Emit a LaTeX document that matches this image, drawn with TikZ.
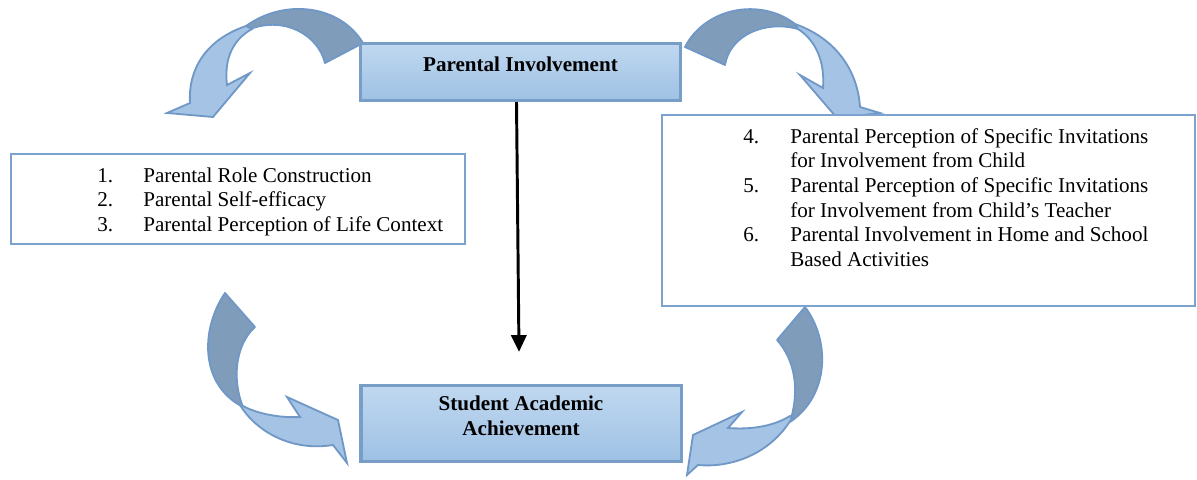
\documentclass[tikz,border=0pt]{standalone}
\usepackage{fontspec}
\setmainfont{Liberation Serif}
\usetikzlibrary{arrows.meta}
\definecolor{boxtop}{RGB}{192,216,240}
\definecolor{boxbot}{RGB}{158,193,228}
\definecolor{boxedge}{RGB}{120,158,200}
\definecolor{listedge}{RGB}{124,162,206}
\definecolor{banddark}{RGB}{127,156,187}
\definecolor{bandlight}{RGB}{164,195,229}
\definecolor{bandedge}{RGB}{112,152,199}
\newcommand{\diagfont}{\fontsize{15}{17.6}\selectfont}
\tikzstyle{mainbox} = [rectangle, draw=boxedge, line width=2.2pt, top color=boxtop, bottom color=boxbot, font=\diagfont\bfseries, align=center, minimum width=8cm, text depth=0.4cm]
\tikzstyle{listbox} = [rectangle, draw=listedge, line width=1.8pt, fill=white]
\tikzstyle{listtext} = [anchor=base west, inner sep=0pt, font=\diagfont]
\tikzstyle{backband} = [fill=banddark, draw=bandedge, line width=1.3pt, line join=round]
\tikzstyle{frontband} = [fill=bandlight, draw=bandedge, line width=1.3pt]
\tikzstyle{connector} = [line width=2.1pt, -{Triangle[length=0.42cm,width=0.38cm]}]
\begin{document}
\begin{tikzpicture}[x=0.025cm, y=-0.025cm]
    \useasboundingbox (0,0) rectangle (1197,480);
    % curved arrows round the boxes
    \path[backband] (363,43) .. controls (340,5) and (285,-2) .. (246,26) -- (250,29) .. controls (285,16) and (318,35) .. (325,63) -- cycle;
    \path[frontband] (246,26) .. controls (205,40) and (188,70) .. (190,103) -- (167,113) -- (213,117) -- (250,73) -- (227,85) .. controls (224,60) and (232,40) .. (252,29) -- cycle;
    \path[backband] (685,47) .. controls (705,8) and (760,-3) .. (795,24) -- (798,29) .. controls (765,20) and (730,35) .. (725,65) -- cycle;
    \path[frontband] (795,24) .. controls (840,40) and (858,75) .. (860,107) -- (880,113) -- (837,118) -- (800,75) -- (823,88) .. controls (825,60) and (815,40) .. (798,29) -- cycle;
    \path[backband] (225,293) .. controls (200,330) and (200,385) .. (243,407) .. controls (232,380) and (235,345) .. (255,327) -- cycle;
    \path[frontband] (240,405) .. controls (255,430) and (290,452) .. (333,445) -- (347,463) -- (338,420) -- (287,397) -- (300,417) .. controls (280,418) and (258,414) .. (243,406) -- cycle;
    \path[backband] (805,307) .. controls (830,340) and (830,395) .. (790,422) .. controls (800,390) and (795,360) .. (777,340) -- cycle;
    \path[frontband] (792,418) .. controls (770,455) and (730,468) .. (698,465) -- (687,475) -- (693,435) -- (742,412) -- (728,428) .. controls (755,430) and (775,425) .. (790,416) -- cycle;
    % boxes
    \node (lbox) [listbox, minimum width=11.35cm, minimum height=2.25cm] at (238,199) {};
    \node (llist) [listtext] at (97,182) {\begin{tabular}[t]{@{}p{1.15cm}@{}l@{}}
        1. & Parental Role Construction\\
        2. & Parental Self-efficacy\\
        3. & Parental Perception of Life Context
    \end{tabular}};
    \node (rbox) [listbox, minimum width=13.325cm, minimum height=4.775cm] at (928.5,210.5) {};
    \node (rlist) [listtext] at (743,143) {\begin{tabular}[t]{@{}p{1.175cm}@{}p{8.95cm}@{}}
        4. & Parental Perception of Specific Invitations\linebreak for Involvement from Child\\
        5. & Parental Perception of Specific Invitations\linebreak for Involvement from Child’s Teacher\\
        6. & Parental Involvement in Home and School\linebreak Based Activities
    \end{tabular}};
    \node (pi) [mainbox, minimum height=1.425cm] at (520.5,72) {Parental Involvement};
    \node (saa) [mainbox, minimum height=1.9cm] at (521,423.5) {Student Academic\\Achievement};
    \draw [connector] ([xshift=-0.1cm]pi.south) -- ([xshift=-0.05cm,yshift=0.8cm]saa.north);
\end{tikzpicture}
\end{document}
